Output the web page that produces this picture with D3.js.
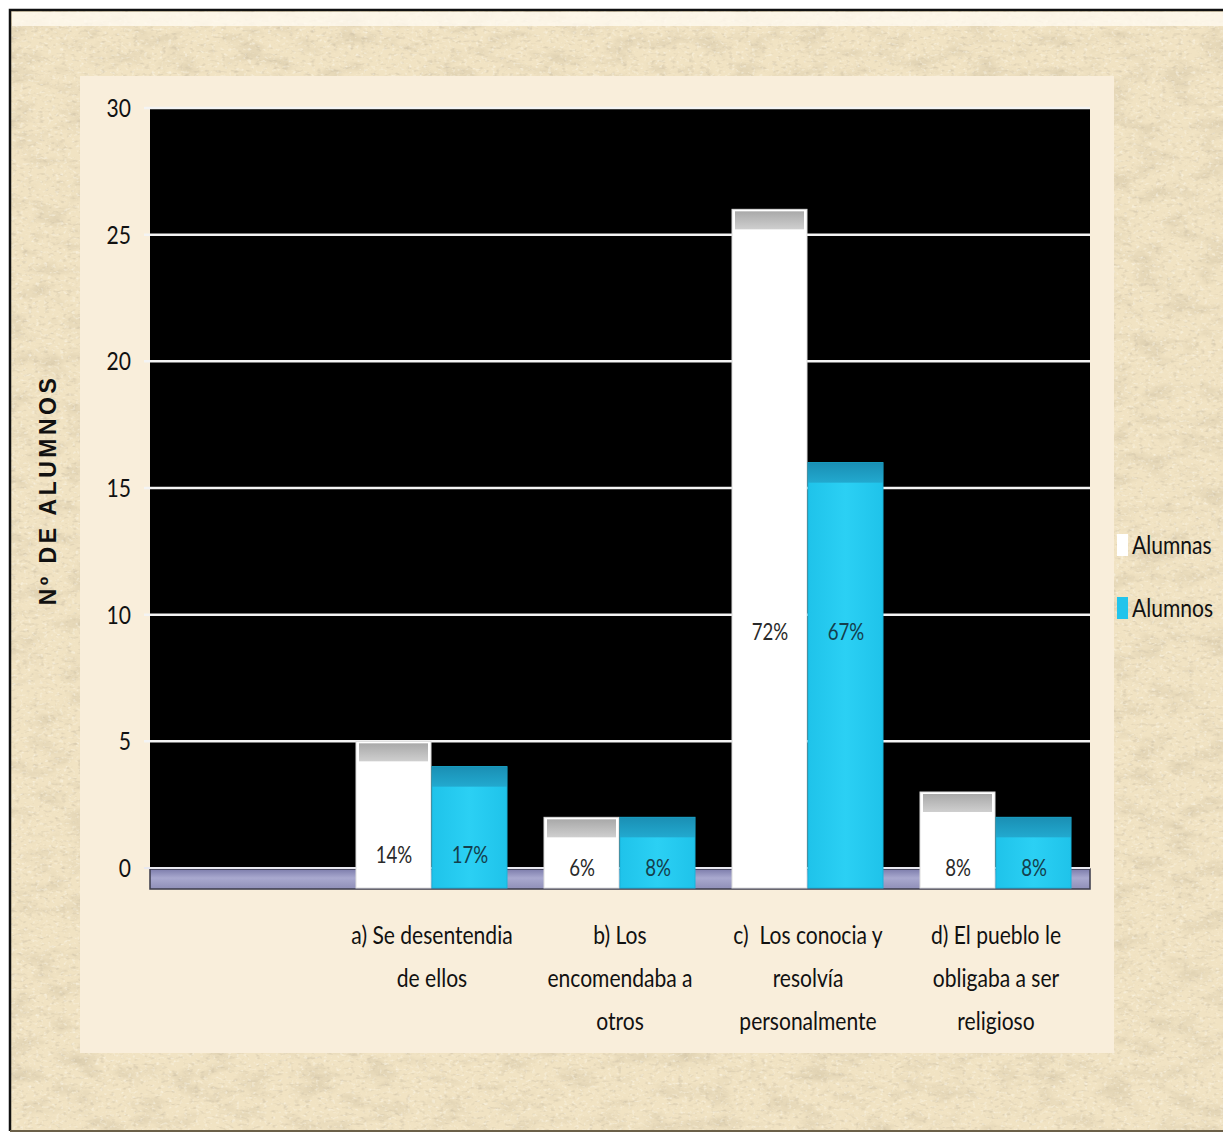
<!DOCTYPE html>
<html><head><meta charset="utf-8">
<script src="https://cdn.jsdelivr.net/npm/d3@7/dist/d3.min.js"></script>
<style>
html,body{margin:0;padding:0;background:#fff;}
svg{display:block;}
.narrow{font-family:Lato,"Open Sans",sans-serif;}
</style></head>
<body>
<svg id="chart" width="1223" height="1133"></svg>
<script>
// ---- data ----
const categories = ["", "a) Se desentendia|de ellos", "b) Los|encomendaba a|otros", "c)  Los conocia y|resolvía|personalmente", "d) El pueblo le|obligaba a ser|religioso"];
const seriesNames = ["Alumnas", "Alumnos"];
const alumnas = [null, 5, 2, 26, 3];
const alumnos = [null, 4, 2, 16, 2];
const alumnasPct = ["", "14%", "6%", "72%", "8%"];
const alumnosPct = ["", "17%", "8%", "67%", "8%"];
const yTicks = [0, 5, 10, 15, 20, 25, 30];

// ---- layout ----
const W = 1223, H = 1133;
const plot = {x0: 150, x1: 1090, y0: 108, y1: 868};
const floorDepth = 20;
const capH = 20;
const SX = 0.81; // horizontal condensing of the narrow font
const svg = d3.select("#chart");
const defs = svg.append("defs");

function ntext(parent, x, y, size, anchor, fill, txt, dy) {
  const g = parent.append("g").attr("transform", `translate(${x},${y}) scale(${SX},1)`);
  const t = g.append("text").attr("class","narrow").attr("x",0).attr("y",0)
    .attr("font-size",size).attr("text-anchor",anchor).attr("fill",fill);
  if (dy) t.attr("dy", dy);
  t.text(txt);
  return t;
}

// parchment texture
const f = defs.append("filter").attr("id","paper").attr("x",0).attr("y",0).attr("width","100%").attr("height","100%");
f.append("feTurbulence").attr("type","fractalNoise").attr("baseFrequency","0.03 0.06").attr("numOctaves",4).attr("seed",7).attr("result","n");
f.append("feColorMatrix").attr("in","n").attr("type","matrix")
 .attr("values","0 0 0 0 0.62  0 0 0 0 0.53  0 0 0 0 0.36  1.3 0 0 0 -0.62");
const f2 = defs.append("filter").attr("id","paper2").attr("x",0).attr("y",0).attr("width","100%").attr("height","100%");
f2.append("feTurbulence").attr("type","fractalNoise").attr("baseFrequency","0.25 0.35").attr("numOctaves",2).attr("seed",3).attr("result","n");
f2.append("feColorMatrix").attr("in","n").attr("type","matrix")
 .attr("values","0 0 0 0 1  0 0 0 0 0.98  0 0 0 0 0.9  1.6 0 0 0 -0.9");
const f3 = defs.append("filter").attr("id","paper3").attr("x",0).attr("y",0).attr("width","100%").attr("height","100%");
f3.append("feTurbulence").attr("type","fractalNoise").attr("baseFrequency","0.18 0.3").attr("numOctaves",2).attr("seed",11).attr("result","n");
f3.append("feColorMatrix").attr("in","n").attr("type","matrix")
 .attr("values","0 0 0 0 0.6  0 0 0 0 0.52  0 0 0 0 0.38  1.8 0 0 0 -1.0");

const gFloor = defs.append("linearGradient").attr("id","floorG").attr("x1",0).attr("y1",0).attr("x2",0).attr("y2",1);
gFloor.append("stop").attr("offset","0%").attr("stop-color","#7c7cab");
gFloor.append("stop").attr("offset","45%").attr("stop-color","#a9a9cf");
gFloor.append("stop").attr("offset","100%").attr("stop-color","#8f8fb8");
const gCapW = defs.append("linearGradient").attr("id","capW").attr("x1",0).attr("y1",0).attr("x2",0).attr("y2",1);
gCapW.append("stop").attr("offset","0%").attr("stop-color","#a9a9a9");
gCapW.append("stop").attr("offset","100%").attr("stop-color","#cfcfcf");
const gCapB = defs.append("linearGradient").attr("id","capB").attr("x1",0).attr("y1",0).attr("x2",0).attr("y2",1);
gCapB.append("stop").attr("offset","0%").attr("stop-color","#1a8fb4");
gCapB.append("stop").attr("offset","100%").attr("stop-color","#22a9cf");
const gBarB = defs.append("linearGradient").attr("id","barB").attr("x1",0).attr("y1",0).attr("x2",1).attr("y2",0);
gBarB.append("stop").attr("offset","0%").attr("stop-color","#1fc3ea");
gBarB.append("stop").attr("offset","50%").attr("stop-color","#2bd0f4");
gBarB.append("stop").attr("offset","100%").attr("stop-color","#1fc3ea");

// background
svg.append("rect").attr("x",0).attr("y",0).attr("width",W).attr("height",H).attr("fill","#ffffff");
svg.append("rect").attr("x",10).attr("y",10).attr("width",W-10).attr("height",H-12).attr("fill","#f1e3c3");
svg.append("rect").attr("x",10).attr("y",10).attr("width",W-10).attr("height",H-12).attr("filter","url(#paper)");
svg.append("rect").attr("x",10).attr("y",10).attr("width",W-10).attr("height",H-12).attr("filter","url(#paper3)");
svg.append("rect").attr("x",10).attr("y",10).attr("width",W-10).attr("height",H-12).attr("filter","url(#paper2)");
svg.append("rect").attr("x",12).attr("y",12).attr("width",W-12).attr("height",14).attr("fill","#fffaf0").attr("opacity",0.8);
svg.append("path").attr("d",`M10,${H-2} L10,10 L${W},10`).attr("fill","none").attr("stroke","#111").attr("stroke-width",2.5);
svg.append("line").attr("x1",10).attr("x2",W).attr("y1",H-2).attr("y2",H-2).attr("stroke","#6b6048").attr("stroke-width",2);

// inner panel
svg.append("rect").attr("x",80).attr("y",76).attr("width",1034).attr("height",977).attr("fill","#f9eedb");

// scales
const y = d3.scaleLinear().domain([0,30]).range([plot.y1, plot.y0]);
const x = d3.scaleBand().domain(d3.range(categories.length)).range([plot.x0, plot.x1]).padding(0);
const xs = d3.scaleBand().domain(seriesNames).range([18, x.bandwidth()-18]).padding(0);

// plot background
svg.append("rect").attr("x",plot.x0).attr("y",plot.y0).attr("width",plot.x1-plot.x0).attr("height",plot.y1-plot.y0).attr("fill","#000");

// gridlines
svg.append("g").selectAll("line").data(yTicks.filter(d=>d>0)).join("line")
 .attr("x1",plot.x0-6).attr("x2",plot.x1).attr("y1",d=>y(d)).attr("y2",d=>y(d))
 .attr("stroke","#f4f4f4").attr("stroke-width",2.5);

// floor
svg.append("rect").attr("x",plot.x0).attr("y",y(0)+1).attr("width",plot.x1-plot.x0).attr("height",floorDepth)
 .attr("fill","url(#floorG)").attr("stroke","#3a3a4a").attr("stroke-width",1.5);
svg.append("line").attr("x1",plot.x0-6).attr("x2",plot.x1).attr("y1",y(0)).attr("y2",y(0)).attr("stroke","#e8e8f0").attr("stroke-width",2);

// y tick labels
const gTicks = svg.append("g");
yTicks.forEach(d => ntext(gTicks, 131, y(d), 26, "end", "#111", d, "0.35em"));

// y axis title
svg.append("text").attr("transform","translate(56,490) rotate(-90)")
 .attr("text-anchor","middle").attr("font-family","'Liberation Sans',Arial,sans-serif").attr("font-weight","bold")
 .attr("font-size",23).attr("letter-spacing",3.5).attr("fill","#111").text("Nº DE ALUMNOS");

// bars
const series = [
  {name:"Alumnas", values:alumnas, pct:alumnasPct, fill:"#ffffff", cap:"url(#capW)", txt:"#2a2a2a"},
  {name:"Alumnos", values:alumnos, pct:alumnosPct, fill:"url(#barB)", cap:"url(#capB)", txt:"#143f4d"}
];
const labelAt = [0, 0.5, 0, 9.3, 0]; // label anchor (axis units) per category
const gBars = svg.append("g");
series.forEach(s => {
  const items = s.values.map((v,i)=>({v,i,p:s.pct[i]})).filter(d=>d.v!=null);
  const g = gBars.append("g");
  const inset = s.name==="Alumnas" ? 3 : 0;
  g.selectAll("rect.body").data(items).join("rect").attr("class","body")
   .attr("x",d=>x(d.i)+xs(s.name)).attr("width",xs.bandwidth()-1)
   .attr("y",d=>y(d.v)).attr("height",d=>y(0)+floorDepth-y(d.v))
   .attr("fill",s.fill).attr("stroke", s.name==="Alumnas" ? "#dcdcdc" : "#18b4da").attr("stroke-width",1);
  g.selectAll("rect.cap").data(items).join("rect").attr("class","cap")
   .attr("x",d=>x(d.i)+xs(s.name)+inset).attr("width",xs.bandwidth()-1-2*inset)
   .attr("y",d=>y(d.v)+(inset?2:0)).attr("height",capH-(inset?2:0))
   .attr("fill",s.cap);
  items.forEach(d => ntext(g, x(d.i)+xs(s.name)+xs.bandwidth()/2, y(labelAt[d.i]), 23, "middle", s.txt, d.p, "0.35em"));
});

// category labels
const gCat = svg.append("g");
categories.forEach((c,i)=>{
  if(!c) return;
  c.split("|").forEach((line,k)=>{
    ntext(gCat, x(i)+x.bandwidth()/2, 944+k*43, 26, "middle", "#111", line).attr("xml:space","preserve");
  });
});

// legend
const leg = svg.append("g");
[{n:"Alumnas",c:"#ffffff",y:545},{n:"Alumnos",c:"#22c4ec",y:608}].forEach(l=>{
  leg.append("rect").attr("x",1117).attr("y",l.y-11).attr("width",11).attr("height",22).attr("fill",l.c);
  ntext(leg, 1132, l.y, 26, "start", "#111", l.n, "0.35em");
});
</script>
</body></html>
